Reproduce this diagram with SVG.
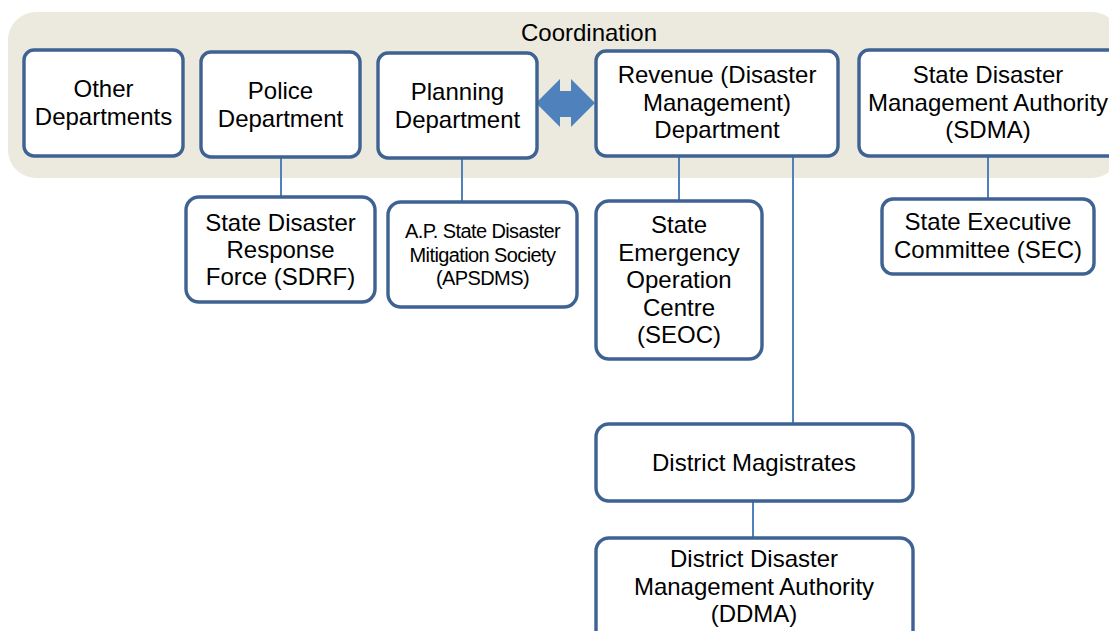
<svg xmlns="http://www.w3.org/2000/svg" width="1109" height="631" viewBox="0 0 1109 631">
<style>
.box{fill:#ffffff;stroke:#3E6291;stroke-width:3.4}
.t{font-family:"Liberation Sans",Arial,sans-serif;font-size:24px;fill:#000;text-anchor:middle}
.s{font-family:"Liberation Sans",Arial,sans-serif;font-size:20px;letter-spacing:-0.6px;fill:#000;text-anchor:middle}
.c{stroke:#4F81BD;stroke-width:2;fill:none}
</style>
<rect x="8" y="12" width="1112" height="166" rx="28" fill="#ECE9DF"/>
<text class="t" x="589" y="41">Coordination</text>
<g id="connectors">
<line class="c" x1="281" y1="157" x2="281" y2="197"/>
<line class="c" x1="462" y1="158" x2="462" y2="202"/>
<line class="c" x1="679" y1="156" x2="679" y2="201"/>
<line class="c" x1="793" y1="156" x2="793" y2="424"/>
<line class="c" x1="988" y1="156" x2="988" y2="199"/>
<line class="c" x1="753" y1="501" x2="753" y2="538" stroke-width="3"/>
<path d="M536,103 L560,79 L560,91 L571,91 L571,79 L595,103 L571,127 L571,117 L560,117 L560,127 Z" fill="#4F81BD"/>
</g>
<g id="other">
<rect class="box" x="24" y="50" width="159" height="106" rx="10"/>
<text class="t" x="103.5" y="97">Other</text>
<text class="t" x="103.5" y="125">Departments</text>
</g>
<g id="police">
<rect class="box" x="201" y="52" width="159" height="105" rx="10"/>
<text class="t" x="280.5" y="99">Police</text>
<text class="t" x="280.5" y="127">Department</text>
</g>
<g id="planning">
<rect class="box" x="378" y="53" width="159" height="105" rx="10"/>
<text class="t" x="457.5" y="100">Planning</text>
<text class="t" x="457.5" y="128">Department</text>
</g>
<g id="revenue">
<rect class="box" x="596" y="51" width="242" height="105" rx="10"/>
<text class="t" x="717" y="83">Revenue (Disaster</text>
<text class="t" x="717" y="111">Management)</text>
<text class="t" x="717" y="138">Department</text>
</g>
<g id="sdma">
<rect class="box" x="859" y="50" width="262" height="106" rx="10"/>
<text class="t" x="988" y="83">State Disaster</text>
<text class="t" x="988" y="111">Management Authority</text>
<text class="t" x="988" y="138">(SDMA)</text>
</g>
<g id="sdrf">
<rect class="box" x="186" y="197" width="189" height="105" rx="13"/>
<text class="t" x="280.5" y="231">State Disaster</text>
<text class="t" x="280.5" y="258">Response</text>
<text class="t" x="280.5" y="285">Force (SDRF)</text>
</g>
<g id="apsdms">
<rect class="box" x="388" y="202" width="189" height="105" rx="13"/>
<text class="s" x="482.5" y="238">A.P. State Disaster</text>
<text class="s" x="482.5" y="262">Mitigation Society</text>
<text class="s" x="482.5" y="285">(APSDMS)</text>
</g>
<g id="seoc">
<rect class="box" x="596" y="201" width="166" height="158" rx="13"/>
<text class="t" x="679" y="233">State</text>
<text class="t" x="679" y="260.5">Emergency</text>
<text class="t" x="679" y="288">Operation</text>
<text class="t" x="679" y="315.5">Centre</text>
<text class="t" x="679" y="343">(SEOC)</text>
</g>
<g id="sec">
<rect class="box" x="882" y="199" width="212" height="75" rx="11"/>
<text class="t" x="988" y="230">State Executive</text>
<text class="t" x="988" y="258">Committee (SEC)</text>
</g>
<g id="dm">
<rect class="box" x="596" y="424" width="317" height="77" rx="13"/>
<text class="t" x="754" y="471">District Magistrates</text>
</g>
<g id="ddma">
<rect class="box" x="596" y="538" width="317" height="110" rx="13"/>
<text class="t" x="754" y="567">District Disaster</text>
<text class="t" x="754" y="595">Management Authority</text>
<text class="t" x="754" y="622">(DDMA)</text>
</g>
</svg>
